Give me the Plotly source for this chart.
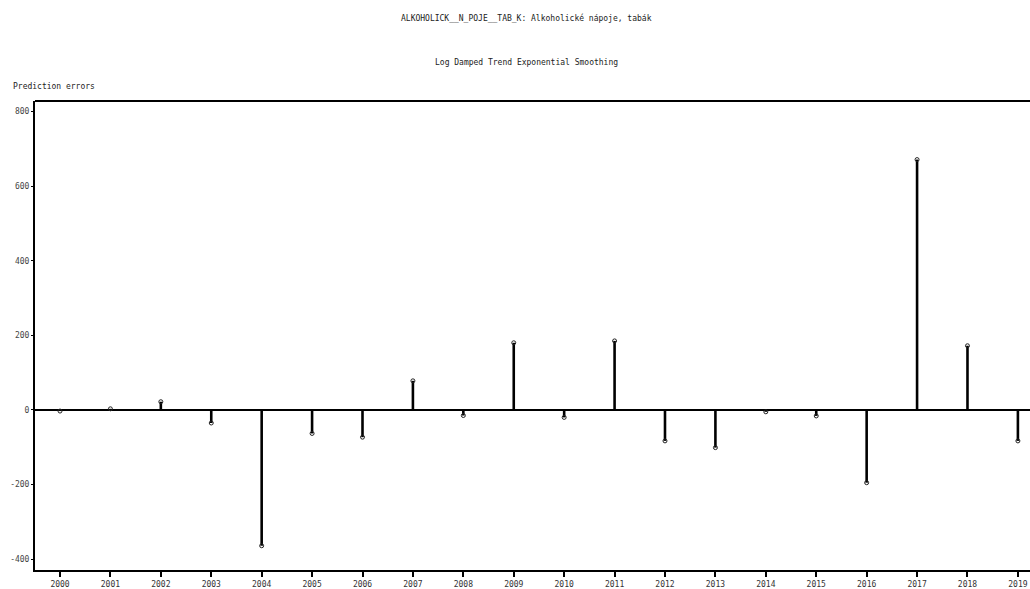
import plotly.graph_objects as go

years = list(range(2000, 2020))
errors = [-3, 3, 22, -35, -364, -63, -73, 78, -15, 180, -20, 185, -83, -101, -5, -16, -195, 671, 172, -83]
x_tick_labels = [str(y) for y in years]
y_tick_vals = [-400, -200, 0, 200, 400, 600, 800]

FONT = "DejaVu Sans Mono"
L, T, B, W, H = 35, 101, 19, 1030, 589

# stem segments built from the data
stem_x, stem_y = [], []
for yr, e in zip(years, errors):
    stem_x += [yr, yr, None]
    stem_y += [0, e, None]

fig = go.Figure()
fig.add_trace(go.Scatter(x=stem_x, y=stem_y, mode="lines", line=dict(color="black", width=2.6),
                         hoverinfo="skip", showlegend=False))
fig.add_trace(go.Scatter(x=years, y=errors, mode="markers",
                         marker=dict(symbol="circle-open", size=4, color="#222", line=dict(width=1)),
                         showlegend=False))

pw, ph = W - L, H - T - B
def ann(text, px, py, xanchor="center"):
    return dict(text=text, x=(px - L) / pw, y=(H - B - py) / ph, xref="paper", yref="paper",
                xanchor=xanchor, yanchor="middle", showarrow=False,
                font=dict(family=FONT, size=8, color="#222"))

fig.update_layout(
    width=W, height=H,
    margin=dict(l=L, r=0, t=T, b=B, autoexpand=False),
    plot_bgcolor="white", paper_bgcolor="white",
    font=dict(family=FONT, size=8, color="#333"),
    annotations=[
        ann("ALKOHOLICK__N_POJE__TAB_K: Alkoholické nápoje, tabák", 526, 18),
        ann("Log Damped Trend Exponential Smoothing", 526, 62),
        ann("Prediction errors", 11, 87, "left"),
    ],
)

fig.update_xaxes(range=[1999.504, 2019.24], tickvals=years, ticktext=x_tick_labels, automargin=False,
                 showline=True, linecolor="black", linewidth=2, ticks="outside", ticklen=5,
                 tickcolor="black", tickwidth=1.5, showgrid=False, zeroline=False,
                 tickfont=dict(family=FONT, size=8, color="#333"))
fig.update_yaxes(range=[-429, 828], tickvals=y_tick_vals, ticktext=[str(v) for v in y_tick_vals], automargin=False,
                 showline=True, linecolor="black", linewidth=2, ticks="outside", ticklen=2,
                 tickcolor="black", showgrid=False, zeroline=True, zerolinecolor="black", zerolinewidth=2,
                 tickfont=dict(family=FONT, size=8, color="#444"))
fig.add_shape(type="line", xref="paper", yref="paper", x0=0, x1=1, y0=1, y1=1,
              line=dict(color="black", width=2))

fig.write_html("out.html", config={"displayModeBar": False},
               post_script="document.body.style.margin='0';document.body.style.overflow='hidden';")
